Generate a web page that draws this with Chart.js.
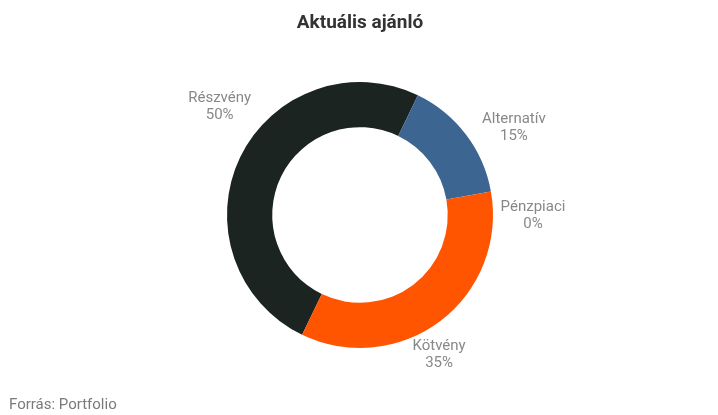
<!DOCTYPE html>
<html>
<head>
<meta charset="utf-8">
<script src="https://cdn.jsdelivr.net/npm/chart.js@4"></script>
<style>
  html, body { margin: 0; padding: 0; background: #fff; }
  #wrap { width: 718px; height: 415px; position: relative; }
</style>
</head>
<body>
<div id="wrap"><canvas id="donut" width="718" height="415"></canvas></div>
<script>
    const categories = ["Részvény", "Alternatív", "Pénzpiaci", "Kötvény"];
    const shares = [50, 15, 0, 35];
    const sliceColors = ["#1b2420", "#3d6591", "#888888", "#ff5400"];
    const chartTitle = "Aktuális ajánló";
    const sourceNote = "Forrás: Portfolio";

    const total = shares.reduce((a, b) => a + b, 0);

    // outside labels (name + percent), pushed apart when too close on one side
    const sliceLabels = {
        id: 'sliceLabels',
        afterDatasetsDraw(chart) {
            const c = chart.ctx;
            const meta = chart.getDatasetMeta(0);
            let spots = meta.data.map(function(arc, i) {
                let a = (arc.startAngle + arc.endAngle) / 2 + 10 * Math.PI / 180;
                return {
                    i: i,
                    x: arc.x + 173 * Math.cos(a),
                    y: arc.y - 10 + 168 * Math.sin(a)
                };
            });
            const cx = meta.data[0].x;
            [true, false].forEach(function(right) {
                let side = spots.filter(s => (s.x >= cx) === right).sort((p, q) => p.y - q.y);
                for (let k = 1; k < side.length; k++) {
                    if (side[k].y - side[k - 1].y < 88) side[k].y = side[k - 1].y + 88;
                }
            });
            c.save();
            c.fillStyle = '#888888';
            c.font = '15px Roboto';
            c.textAlign = 'center';
            c.textBaseline = 'middle';
            spots.forEach(function(s) {
                let pct = Math.round(shares[s.i] / total * 100) + '%';
                c.fillText(categories[s.i], s.x, s.y - 8.5);
                c.fillText(pct, s.x, s.y + 8.5);
            });
            c.restore();
        }
    };

    const headerFooter = {
        id: 'headerFooter',
        afterDraw(chart) {
            const c = chart.ctx;
            c.save();
            c.fillStyle = '#333333';
            c.font = 'bold 19px Roboto';
            c.textAlign = 'center';
            c.textBaseline = 'alphabetic';
            c.fillText(chartTitle, 360, 28);
            c.fillStyle = '#7a7a7a';
            c.font = '15px Roboto';
            c.textAlign = 'left';
            c.fillText(sourceNote, 9, 409);
            c.restore();
        }
    };

    const ctx = document.getElementById('donut').getContext('2d');
    const chart = new Chart(ctx, {
        type: 'doughnut',
        data: {
            labels: categories,
            datasets: [{
                data: shares,
                backgroundColor: sliceColors,
                borderWidth: 0,
                hoverOffset: 0
            }]
        },
        options: {
            responsive: false,
            animation: false,
            rotation: 205.8,
            cutout: '66%',
            events: [],
            layout: { padding: { top: 82, bottom: 67, left: 102, right: 100 } },
            plugins: {
                legend: { display: false },
                tooltip: { enabled: false },
                title: { display: false }
            }
        },
        plugins: [sliceLabels, headerFooter]
    });
</script>
</body>
</html>
